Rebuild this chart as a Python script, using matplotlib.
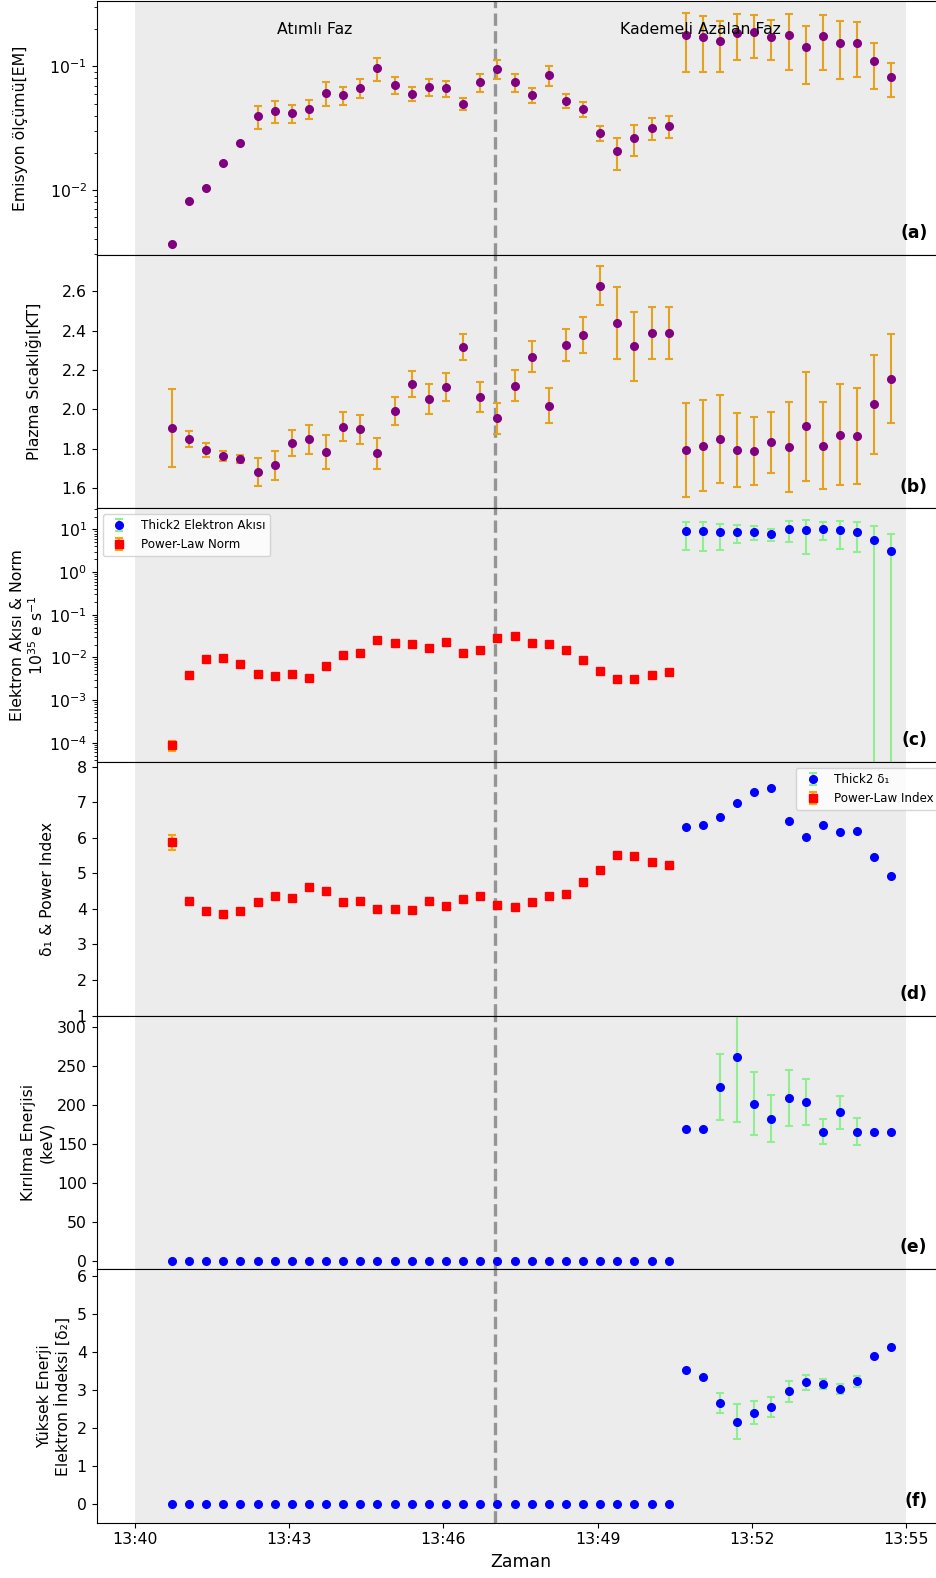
import numpy as np
import pandas as pd
import matplotlib
matplotlib.use("Agg")
import matplotlib.pyplot as plt
import matplotlib.dates as mdates
from datetime import datetime

plt.rcParams['font.size'] = 11.3

# 20 s cadence, 43 spectra
times = pd.date_range("2024-01-01 13:40:43", periods=43, freq="20s").to_pydatetime()

# (a) emission measure
em = [0.00364, 0.00818, 0.01045, 0.0166, 0.0238, 0.0397, 0.0436, 0.0420, 0.0456, 0.0611,
      0.0589, 0.0675, 0.0963, 0.0705, 0.0600, 0.0684, 0.0667, 0.0500, 0.0741, 0.0957,
      0.0741, 0.0592, 0.0845, 0.0529, 0.0453, 0.0290, 0.0205, 0.0263, 0.0319, 0.0330,
      0.181, 0.173, 0.162, 0.188, 0.189, 0.174, 0.180, 0.143, 0.177, 0.156, 0.156, 0.110, 0.0814]
em_err = [0, 0, 0, 0, 0, 0.0085, 0.009, 0.007, 0.008, 0.013,
          0.0098, 0.0118, 0.020, 0.011, 0.0078, 0.0105, 0.0097, 0.006, 0.012, 0.0168,
          0.012, 0.0083, 0.0157, 0.0072, 0.0066, 0.004, 0.006, 0.0075, 0.0064, 0.0065,
          0.091, 0.083, 0.072, 0.076, 0.073, 0.062, 0.086, 0.071, 0.083, 0.077, 0.074, 0.044, 0.025]

# (b) plasma temperature
kt = [1.905, 1.849, 1.793, 1.764, 1.746, 1.680, 1.715, 1.829, 1.847, 1.783,
      1.912, 1.898, 1.776, 1.992, 2.129, 2.054, 2.114, 2.317, 2.063, 1.953,
      2.119, 2.268, 2.017, 2.329, 2.378, 2.629, 2.439, 2.320, 2.388, 2.388,
      1.792, 1.815, 1.851, 1.793, 1.788, 1.832, 1.808, 1.914, 1.815, 1.871, 1.864, 2.025, 2.156]
kt_err = [0.200, 0.042, 0.037, 0.025, 0.022, 0.073, 0.074, 0.066, 0.075, 0.085,
          0.073, 0.075, 0.080, 0.070, 0.067, 0.076, 0.071, 0.068, 0.078, 0.080,
          0.079, 0.078, 0.089, 0.082, 0.092, 0.098, 0.182, 0.176, 0.131, 0.130,
          0.238, 0.233, 0.224, 0.190, 0.172, 0.155, 0.228, 0.278, 0.222, 0.256, 0.244, 0.253, 0.226]

# power-law fits (first 30 intervals)
pl_norm = [8.8e-5, 3.85e-3, 9.3e-3, 9.8e-3, 7.2e-3, 4.14e-3, 3.72e-3, 4.0e-3, 3.22e-3, 6.15e-3,
           1.13e-2, 1.26e-2, 2.55e-2, 2.21e-2, 2.02e-2, 1.69e-2, 2.25e-2, 1.24e-2, 1.49e-2, 2.89e-2,
           3.10e-2, 2.21e-2, 2.02e-2, 1.49e-2, 8.66e-3, 4.87e-3, 3.05e-3, 3.16e-3, 3.92e-3, 4.53e-3] + [np.nan] * 13
pl_norm_err = [2.2e-5] + [0.0] * 42
pl_idx = [5.869, 4.234, 3.935, 3.850, 3.935, 4.196, 4.364, 4.318, 4.617, 4.495,
          4.196, 4.224, 4.000, 3.991, 3.981, 4.224, 4.075, 4.290, 4.355, 4.103,
          4.056, 4.206, 4.364, 4.430, 4.757, 5.084, 5.514, 5.486, 5.308, 5.243] + [np.nan] * 13
pl_idx_err = [0.215] + [0.0] * 42

# thick2 fits (last 13 intervals, zero before)
th_flux = [0.0] * 30 + [9.3, 8.98, 8.5, 8.8, 8.66, 7.78, 10.2, 9.65, 10.2, 9.8, 8.8, 5.52, 3.10]
th_flux_err = [0.0] * 30 + [6.0, 5.8, 5.15, 3.9, 3.1, 2.3, 5.2, 7.0, 4.7, 6.3, 5.8, 6.2, 4.8]
th_d1 = [0.0] * 30 + [6.308, 6.364, 6.589, 6.972, 7.299, 7.393, 6.477, 6.019, 6.364, 6.150, 6.178, 5.449, 4.935]
th_d1_err = [0.0] * 43
th_eb = [0.0] * 30 + [169.8, 169.8, 223.2, 261.6, 202.3, 182.6, 209.5, 204.8, 166.4, 191.2, 166.4, 166.4, 166.4]
th_eb_err = [0.0] * 30 + [0, 0, 42.5, 82.8, 40.0, 30.0, 36.3, 29.5, 16.0, 21.0, 17.5, 0, 0]
th_d2 = [0.0] * 30 + [3.512, 3.336, 2.651, 2.160, 2.397, 2.546, 2.968, 3.196, 3.161, 3.020, 3.231, 3.889, 4.118]
th_d2_err = [0.0] * 30 + [0, 0, 0.272, 0.466, 0.298, 0.263, 0.277, 0.202, 0.132, 0.136, 0.145, 0, 0]

t_start = datetime(2024, 1, 1, 13, 40)
t_split = datetime(2024, 1, 1, 13, 47)
t_end = datetime(2024, 1, 1, 13, 55)

fig = plt.figure(figsize=(9.36, 15.78), dpi=100)
axs = fig.subplots(6, 1, sharex=True)
fig.subplots_adjust(left=0.1032, right=1.009, top=0.9992, bottom=0.035, hspace=0)

ebar = dict(capsize=3, elinewidth=1.5, capthick=1.5, markersize=5.5, linestyle='none')
gold = '#E3A31F'

for ax in axs:
    ax.axvspan(t_start, t_end, color='gray', alpha=0.15, lw=0, zorder=0)
    ax.axvline(t_split, color='gray', linestyle='--', linewidth=2.4, alpha=0.8, zorder=1.5)

# (a)
ax = axs[0]
ax.errorbar(times, em, yerr=em_err, fmt='o', color='purple', ecolor=gold, **ebar)
ax.set_yscale('log')
ax.set_ylim(0.00298, 0.337)
ax.set_ylabel("Emisyon ölçümü[EM]", labelpad=15.6)
ax.text(datetime(2024, 1, 1, 13, 43, 30), 0.89, "Atımlı Faz", ha='center', va='center',
        transform=ax.get_xaxis_transform())
ax.text(datetime(2024, 1, 1, 13, 51), 0.89, "Kademeli Azalan Faz", ha='center', va='center',
        transform=ax.get_xaxis_transform())

# (b)
ax = axs[1]
ax.errorbar(times, kt, yerr=kt_err, fmt='o', color='purple', ecolor=gold, **ebar)
ax.set_ylim(1.495, 2.786)
ax.set_ylabel("Plazma Sıcaklığı[KT]", labelpad=14)

# (c)
ax = axs[2]
ax.errorbar(times, th_flux, yerr=th_flux_err, fmt='o', color='blue', ecolor='lightgreen',
            label="Thick2 Elektron Akısı", **ebar)
ax.errorbar(times, pl_norm, yerr=pl_norm_err, fmt='s', color='red', ecolor='orange',
            label="Power-Law Norm", **ebar)
ax.set_yscale('log')
ax.set_ylim(3.55e-5, 31)
ax.set_ylabel("Elektron Akısı & Norm\n$10^{35}$ e s$^{-1}$", labelpad=2)
ax.legend(loc='upper left', fontsize=8.6)

# (d)
ax = axs[3]
ax.errorbar(times, th_d1, yerr=th_d1_err, fmt='o', color='blue', ecolor='lightgreen',
            label="Thick2 δ₁", **ebar)
ax.errorbar(times, pl_idx, yerr=pl_idx_err, fmt='s', color='red', ecolor='orange',
            label="Power-Law Index", **ebar)
ax.set_ylim(1, 8.13)
ax.set_ylabel("δ₁ & Power Index", labelpad=15.6)
ax.legend(loc='upper right', fontsize=8.6)

# (e)
ax = axs[4]
ax.errorbar(times, th_eb, yerr=th_eb_err, fmt='o', color='blue', ecolor='lightgreen', **ebar)
ax.set_ylim(-10, 315)
ax.set_ylabel("Kırılma Enerjisi\n(keV)", labelpad=2.2)

# (f)
ax = axs[5]
ax.errorbar(times, th_d2, yerr=th_d2_err, fmt='o', color='blue', ecolor='lightgreen', **ebar)
ax.set_ylim(-0.5, 6.18)
ax.set_ylabel("Yüksek Enerji\nElektron İndeksi [δ₂]")
ax.set_xlabel("Zaman", fontsize=12.5)

for ax, lab in zip(axs, "abcdef"):
    ax.text(0.98, 0.086, f"({lab})", transform=ax.transAxes, ha='right', va='center',
            fontsize=12.3, fontweight='bold')

axs[-1].set_xlim(datetime(2024, 1, 1, 13, 39, 15), datetime(2024, 1, 1, 13, 55, 45))
axs[-1].xaxis.set_major_locator(mdates.MinuteLocator(byminute=[40, 43, 46, 49, 52, 55]))
axs[-1].xaxis.set_major_formatter(mdates.DateFormatter("%H:%M"))

fig.savefig("out.png", dpi=100)
